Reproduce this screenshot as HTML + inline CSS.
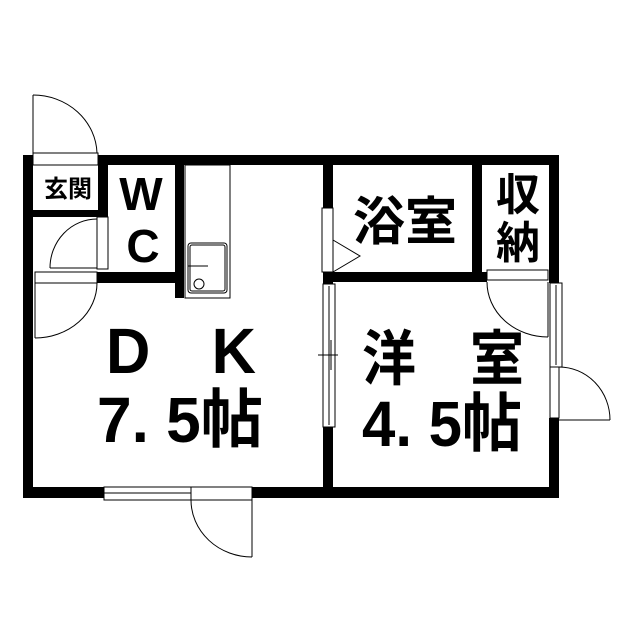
<!DOCTYPE html>
<html><head><meta charset="utf-8"><style>
html,body{margin:0;padding:0;background:#fff;}
svg{display:block;}
text{font-family:"Liberation Sans","Noto Sans CJK JP",sans-serif;fill:#000;}
</style></head><body>
<svg width="640" height="640" viewBox="0 0 640 640" xmlns="http://www.w3.org/2000/svg">
<g fill="#000">
<rect x="23" y="155" width="10" height="343"/>
<rect x="98" y="155" width="461" height="10"/>
<rect x="23" y="487" width="81" height="11"/>
<rect x="252" y="487" width="307" height="11"/>
<rect x="549" y="155" width="10" height="128"/>
<rect x="549" y="418" width="10" height="80"/>
<rect x="33" y="210" width="75" height="7"/>
<rect x="98" y="155" width="10" height="62"/>
<rect x="95" y="272" width="88" height="11"/>
<rect x="175" y="155" width="9" height="143"/>
<rect x="323" y="155" width="10" height="53"/>
<rect x="323" y="272" width="10" height="12"/>
<rect x="323" y="427" width="10" height="65"/>
<rect x="323" y="272" width="164" height="10"/>
<rect x="472" y="155" width="10" height="127"/>
</g>
<g fill="#fff" stroke="#000" stroke-width="1">
<rect x="33" y="153" width="65" height="12"/>
<rect x="97" y="217" width="11" height="52"/>
<rect x="35" y="272" width="62" height="11"/>
<rect x="185" y="165" width="45" height="133"/>
<rect x="188" y="243" width="39" height="50" rx="3"/>
<rect x="190" y="245" width="35" height="46" rx="2"/>
<circle cx="199" cy="284" r="5"/>
<rect x="322" y="208" width="11" height="64"/>
<rect x="323" y="284" width="12" height="143"/>
<rect x="487" y="270" width="61" height="10"/>
<rect x="550" y="283" width="12" height="84"/>
<rect x="550" y="367" width="9" height="51"/>
<rect x="104" y="487" width="87" height="13"/>
<rect x="191" y="487" width="61" height="13"/>
</g>
<g fill="none" stroke="#000" stroke-width="1">
<line x1="104" y1="493" x2="191" y2="493"/>
<line x1="556" y1="285" x2="556" y2="365"/>
<line x1="329" y1="286" x2="329" y2="425"/>
<line x1="318" y1="355" x2="338" y2="355"/>
<line x1="331" y1="340" x2="331" y2="370"/>
<line x1="188" y1="266" x2="208" y2="266"/>
<line x1="33" y1="95" x2="33" y2="153"/>
<path d="M33 95 A64 60 0 0 1 97 153"/>
<line x1="50" y1="268" x2="97" y2="268"/>
<path d="M97 219 A47 49 0 0 0 50 268"/>
<line x1="35" y1="283" x2="35" y2="338"/>
<path d="M97 283 A62 55 0 0 1 35 338"/>
<path d="M333 240 L360 256 L333 272"/>
<line x1="548" y1="282" x2="548" y2="337"/>
<path d="M487 282 A61 55 0 0 0 548 337"/>
<path d="M559 367 A51 53 0 0 1 610 420"/>
<line x1="559" y1="420" x2="610" y2="420"/>
<line x1="252" y1="500" x2="252" y2="557"/>
<path d="M191 500 A61 57 0 0 0 252 557"/>
</g>
<text x="68" y="197" font-size="24" font-weight="bold" text-anchor="middle">玄関</text>
<text x="141" y="210" font-size="46" font-weight="bold" text-anchor="middle">W</text>
<text x="143" y="262" font-size="46" font-weight="bold" text-anchor="middle">C</text>
<text x="405" y="240" font-size="52" font-weight="bold" text-anchor="middle">浴室</text>
<text x="518" y="210" font-size="44" font-weight="bold" text-anchor="middle">収</text>
<text x="518" y="258" font-size="44" font-weight="bold" text-anchor="middle">納</text>
<text x="106" y="373" font-size="64" font-weight="bold" textLength="150" lengthAdjust="spacingAndGlyphs">D　K</text>
<text x="97" y="442" font-size="64" font-weight="bold" textLength="166" lengthAdjust="spacingAndGlyphs">7. 5帖</text>
<text x="362" y="380" font-size="60" font-weight="bold" textLength="162" lengthAdjust="spacingAndGlyphs">洋　室</text>
<text x="362" y="446" font-size="64" font-weight="bold" textLength="160" lengthAdjust="spacingAndGlyphs">4. 5帖</text>
</svg>
</body></html>
